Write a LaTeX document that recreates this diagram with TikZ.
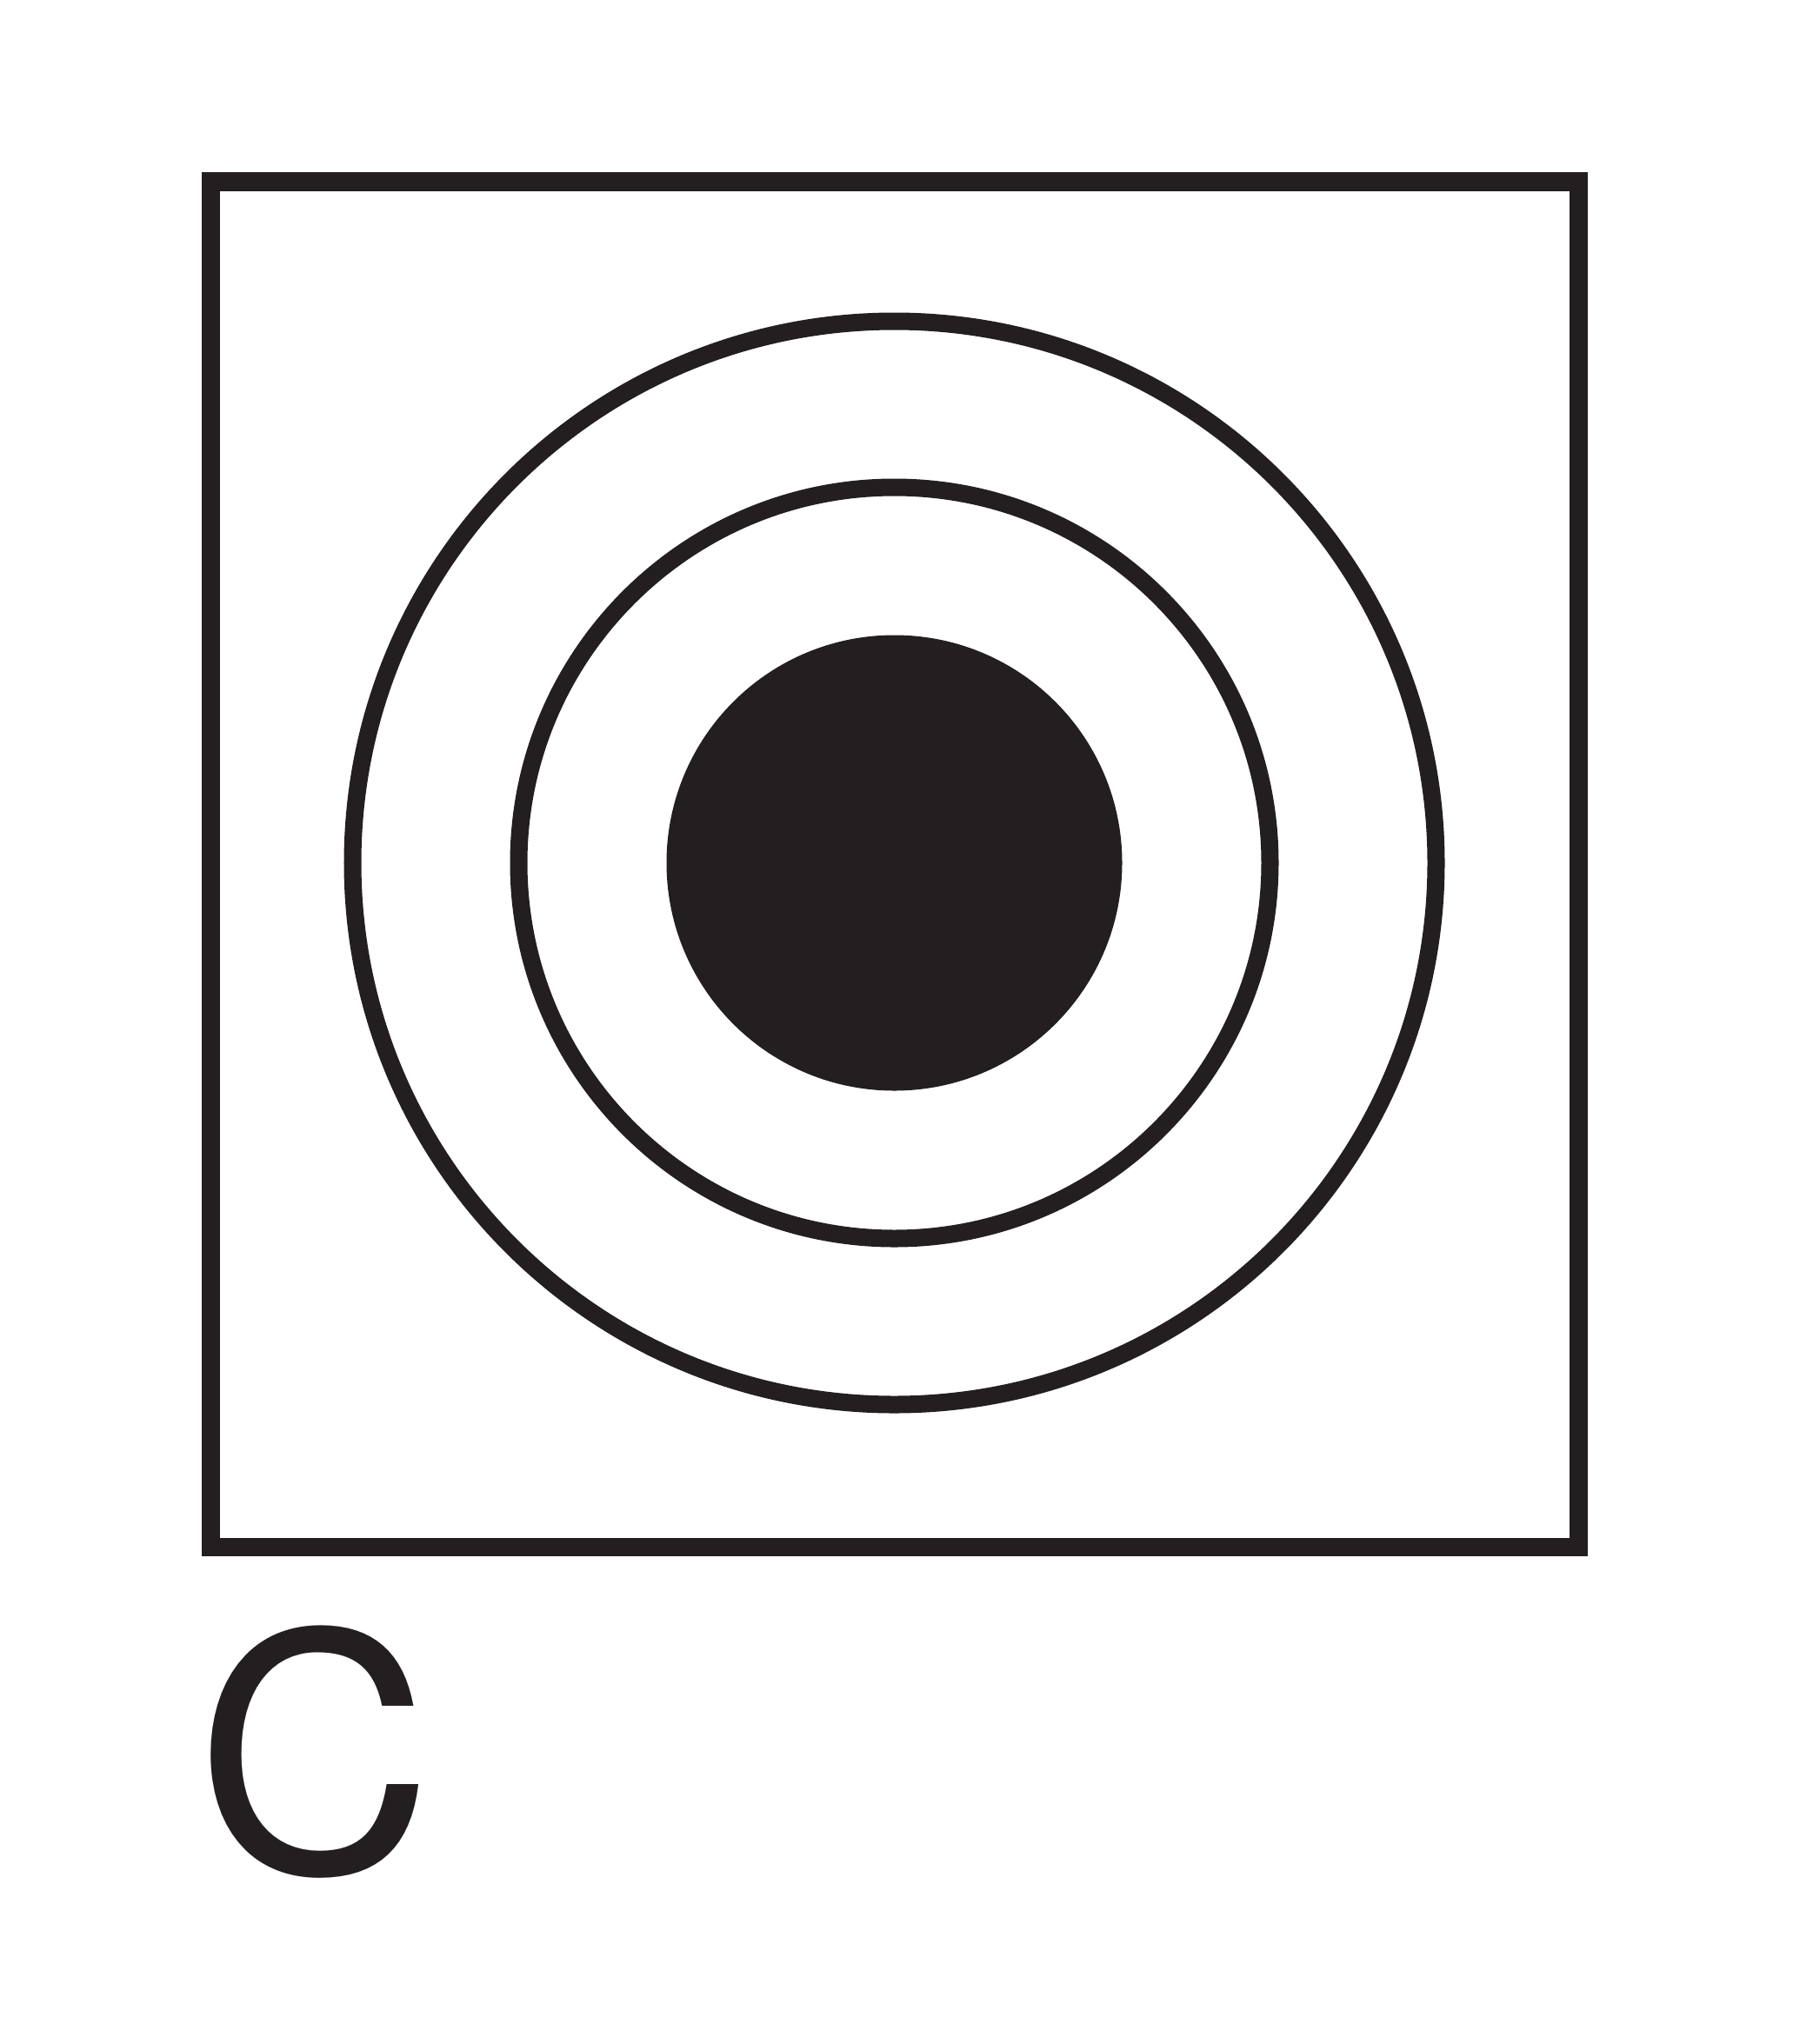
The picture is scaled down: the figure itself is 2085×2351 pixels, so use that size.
\documentclass[tikz,border=0pt]{standalone}
\usepackage{fontspec}
\setmainfont{TeX Gyre Heros}
\usepackage{xcolor}
\usepackage{tikz}
\definecolor{inkblack}{HTML}{231F20}

\begin{document}
\begin{tikzpicture}[
  x=0.01cm, y=0.01cm,
  frame/.style={draw=inkblack, line width=2.1mm},
  ring/.style={draw=inkblack, line width=2mm},
  dot/.style={fill=inkblack},
  tag/.style={inner sep=0, anchor=base west, text=inkblack,
    font=\fontsize{108}{108}\selectfont}
]
\useasboundingbox (0,0) rectangle (2085,-2351);

% Outer square
\draw[frame] (242.5,-209) rectangle (1815,-1779);

% Concentric rings and centre dot
\coordinate (ctr) at (1028.5,-992.5);
\draw[ring] (ctr) circle[radius=623];
\draw[ring] (ctr) circle[radius=432];
\fill[dot] (ctr) circle[radius=262];

% Panel label
\node[tag] (lbl) at (224,-2153) {C};

\end{tikzpicture}
\end{document}
